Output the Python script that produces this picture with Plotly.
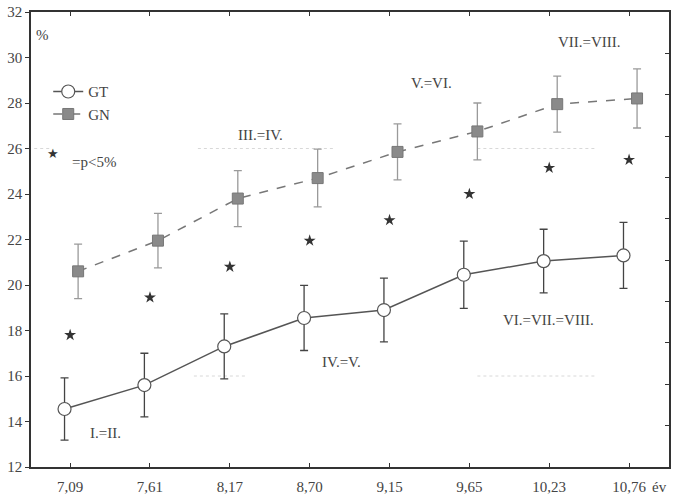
import plotly.graph_objects as go

categories = ["7,09", "7,61", "8,17", "8,70", "9,15", "9,65", "10,23", "10,76"]
gt_mean = [14.55, 15.6, 17.3, 18.55, 18.9, 20.45, 21.05, 21.3]
gt_err = [1.37, 1.4, 1.43, 1.43, 1.4, 1.48, 1.4, 1.45]
gn_mean = [20.6, 21.95, 23.8, 24.7, 25.85, 26.75, 27.95, 28.2]
gn_err = [1.2, 1.2, 1.23, 1.27, 1.23, 1.25, 1.23, 1.3]
sig_y = [17.8, 19.45, 20.8, 21.95, 22.85, 24.0, 25.15, 25.5]
y_ticks = list(range(12, 33, 2))

idx = list(range(len(categories)))
gt_x = [i - 0.07 for i in idx]
gn_x = [i + 0.1 for i in idx]

FONT = "Liberation Serif, Times New Roman, serif"
TXT = "#444"

fig = go.Figure()

fig.add_trace(go.Scatter(
    x=gn_x, y=gn_mean, name="GN", mode="lines+markers",
    line=dict(color="#777", width=1.5, dash="dash"),
    marker=dict(symbol="square", size=11, color="#8a8a8a", line=dict(color="#777", width=1)),
    error_y=dict(type="data", array=gn_err, visible=True, color="#9a9a9a", thickness=1.3, width=4),
))
fig.add_trace(go.Scatter(
    x=gt_x, y=gt_mean, name="GT", mode="lines+markers",
    line=dict(color="#555", width=1.5),
    marker=dict(symbol="circle", size=13, color="white", line=dict(color="#555", width=1.2)),
    error_y=dict(type="data", array=gt_err, visible=True, color="#444", thickness=1.3, width=4),
))
fig.add_trace(go.Scatter(
    x=idx, y=sig_y, mode="markers", showlegend=False,
    marker=dict(symbol="star", size=9, color="#333", line=dict(width=0)),
))
# invisible trace for right-side tick axis
fig.add_trace(go.Scatter(x=[None], y=[None], yaxis="y2", showlegend=False, hoverinfo="skip"))

# faint dotted artifact lines
for y0, x0, x1 in [(26, -0.45, -0.25), (26, 1.6, 3.3), (26, 5.1, 6.6), (16, 1.55, 2.2), (16, 5.1, 6.6)]:
    fig.add_shape(type="line", x0=x0, x1=x1, y0=y0, y1=y0, xref="x", yref="y",
                  line=dict(color="#d8d8d8", width=1, dash="dot"), layer="below")

annos = [
    ("I.=II.", 0.44, 13.5),
    ("III.=IV.", 2.38, 26.6),
    ("IV.=V.", 3.40, 16.6),
    ("V.=VI.", 4.53, 28.9),
    ("VII.=VIII.", 6.51, 30.66),
    ("VI.=VII.=VIII.", 5.99, 18.45),
    ("%", -0.34, 31.0),
    ("=p<5%", 0.30, 25.4),
]
for t, x, y in annos:
    fig.add_annotation(text=t, x=x, y=y, xref="x", yref="y", showarrow=False,
                       font=dict(family=FONT, size=15, color=TXT))
fig.add_annotation(text="★", x=-0.21, y=25.77, xref="x", yref="y", showarrow=False,
                   font=dict(family="DejaVu Sans", size=13, color="#333"))
fig.add_annotation(text="év", x=7.38, y=-0.044, xref="x", yref="paper", yanchor="middle",
                   showarrow=False, font=dict(family=FONT, size=15, color=TXT))

fig.update_layout(
    width=676, height=497,
    margin=dict(l=31, r=7, t=12, b=30, autoexpand=False),
    paper_bgcolor="white", plot_bgcolor="white",
    font=dict(family=FONT, size=15, color=TXT),
    showlegend=True,
    legend=dict(x=0.027, y=0.861, xanchor="left", yanchor="top", bgcolor="rgba(0,0,0,0)",
                font=dict(family=FONT, size=15, color=TXT), traceorder="reversed",
                tracegroupgap=0, itemwidth=30),
    xaxis=dict(range=[-0.49, 7.5], tickvals=idx, ticktext=categories, showgrid=False,
               zeroline=False, showline=True, linecolor="#333", linewidth=1.5,
               mirror="ticks", ticks="inside", ticklen=4, tickcolor="#333",
               ticklabelstandoff=5, automargin=False,
               tickfont=dict(family=FONT, size=15, color=TXT)),
    yaxis=dict(range=[12, 32], tickvals=y_ticks, showgrid=False, zeroline=False,
               showline=True, linecolor="#333", linewidth=1.5, mirror=True,
               ticks="outside", ticklen=4, tickcolor="#333", automargin=False,
               tickfont=dict(family=FONT, size=15, color=TXT)),
    yaxis2=dict(range=[0, 11], dtick=1, overlaying="y", side="right", showgrid=False,
                zeroline=False, showline=False, ticks="inside", ticklen=4,
                tickcolor="#333", showticklabels=False, automargin=False),
)

fig.write_html("out.html")
